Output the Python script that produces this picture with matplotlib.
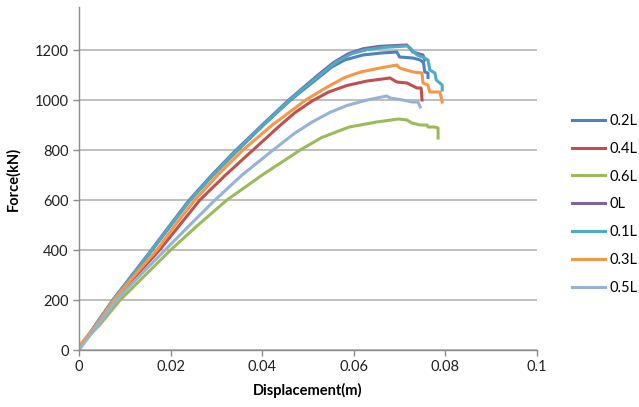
import matplotlib
matplotlib.use("Agg")
import matplotlib.pyplot as plt

plt.rcParams['font.family'] = ['Lato', 'DejaVu Sans']

# 位移 (m) 与 力 (kN)
labels = ['0.2L', '0.4L', '0.6L', '0L', '0.1L', '0.3L', '0.5L']
colors = ['#4F81BD', '#C0504D', '#9BBB59', '#8064A2', '#4BACC6', '#F79646', '#95B3D7']

x_02 = [0, 0.0037, 0.0075, 0.0117, 0.0160, 0.0201, 0.0243, 0.0293, 0.0347, 0.0403, 0.0462,
        0.0530, 0.0552, 0.0580, 0.0620, 0.0660, 0.0694, 0.0700, 0.0729, 0.0745, 0.0752,
        0.0755, 0.0762, 0.0762]
y_02 = [5, 100, 200, 300, 400, 500, 600, 700, 800, 900, 1000,
        1100, 1132, 1160, 1180, 1188, 1192, 1172, 1168, 1160, 1150,
        1112, 1108, 1090]

x_04 = [0, 0.0039, 0.0078, 0.0126, 0.0176, 0.0220, 0.0264, 0.0320, 0.0380, 0.0440, 0.0472,
        0.0508, 0.0545, 0.0585, 0.0629, 0.0679, 0.0694, 0.0716, 0.0738, 0.0747, 0.0749]
y_04 = [5, 100, 200, 300, 400, 500, 600, 700, 800, 900, 950,
        995, 1032, 1058, 1076, 1088, 1072, 1068, 1048, 1048, 1000]

x_06 = [0, 0.0045, 0.0090, 0.0145, 0.0200, 0.0260, 0.0323, 0.0400, 0.0483, 0.0530, 0.0590,
        0.0650, 0.0697, 0.0716, 0.0727, 0.0745, 0.0760, 0.0762, 0.0777, 0.0784, 0.0784]
y_06 = [15, 100, 200, 300, 400, 500, 600, 700, 800, 850, 892,
        912, 924, 920, 908, 900, 900, 892, 892, 888, 848]

x_0 = [0, 0.0036, 0.0074, 0.0116, 0.0158, 0.0199, 0.0241, 0.0290, 0.0343, 0.0400, 0.0458,
       0.0522, 0.0556, 0.0588, 0.0620, 0.0658, 0.0716, 0.0720, 0.0729, 0.0751, 0.0755]
y_0 = [5, 100, 200, 300, 400, 500, 600, 700, 800, 900, 1000,
       1100, 1150, 1185, 1205, 1215, 1220, 1212, 1192, 1180, 1160]

x_01 = [0, 0.0036, 0.0074, 0.0117, 0.0159, 0.0200, 0.0243, 0.0292, 0.0345, 0.0402, 0.0460,
        0.0526, 0.0560, 0.0595, 0.0625, 0.0665, 0.0716, 0.0723, 0.0738, 0.0750, 0.0762,
        0.0766, 0.0777, 0.0780, 0.0793, 0.0793]
y_01 = [5, 100, 200, 300, 400, 500, 600, 700, 800, 900, 1000,
        1100, 1150, 1185, 1200, 1210, 1216, 1208, 1180, 1172, 1160,
        1120, 1108, 1080, 1060, 1040]

x_03 = [0, 0.0038, 0.0076, 0.0122, 0.0170, 0.0210, 0.0253, 0.0303, 0.0358, 0.0422, 0.0495,
        0.0540, 0.0580, 0.0615, 0.0657, 0.0694, 0.0700, 0.0729, 0.0749, 0.0751, 0.0762,
        0.0766, 0.0788, 0.0793]
y_03 = [15, 100, 200, 300, 400, 500, 600, 700, 800, 900, 1000,
        1050, 1090, 1112, 1128, 1140, 1128, 1112, 1108, 1068, 1060,
        1032, 1032, 992]

x_05 = [0, 0.0041, 0.0082, 0.0134, 0.0188, 0.0242, 0.0297, 0.0356, 0.0424, 0.0470, 0.0511,
        0.0550, 0.0585, 0.0629, 0.0672, 0.0679, 0.0707, 0.0727, 0.0740, 0.0745]
y_05 = [0, 100, 200, 300, 400, 500, 600, 700, 800, 866, 914,
        952, 978, 1000, 1016, 1008, 1000, 992, 992, 972]

xs = [x_02, x_04, x_06, x_0, x_01, x_03, x_05]
ys = [y_02, y_04, y_06, y_0, y_01, y_03, y_05]

fig = plt.figure(figsize=(6.39, 4.07), dpi=100)
ax = fig.add_axes([79 / 639, 1 - 350 / 407, 458 / 639, 343 / 407])

for x, y, c, lab in zip(xs, ys, colors, labels):
    ax.plot(x, y, color=c, lw=2.2, label=lab)

ax.set_xlim(0, 0.1)
ax.set_ylim(0, 1372)
ax.set_xticks([0, 0.02, 0.04, 0.06, 0.08, 0.1])
ax.set_xticklabels(['0', '0.02', '0.04', '0.06', '0.08', '0.1'])
ax.set_yticks(range(0, 1201, 200))
ax.grid(axis='y', color='#B4B4B4', lw=1.2)
ax.set_axisbelow(True)
for s in ['top', 'right']:
    ax.spines[s].set_visible(False)
for s in ['left', 'bottom']:
    ax.spines[s].set_color('#8C8C8C')
    ax.spines[s].set_linewidth(1.0)
ax.tick_params(colors='#8C8C8C', labelcolor='#222222', labelsize=10.5, length=4, width=1)
ax.set_xlabel('Displacement(m)', fontsize=10.5, fontweight='bold', labelpad=6)
ax.set_ylabel('Force(kN)', fontsize=10.5, fontweight='bold', labelpad=10)

fig.legend(loc='upper left', bbox_to_anchor=(566 / 639, 1 - 108 / 407), frameon=False,
           fontsize=10.5, handlelength=2.3, handletextpad=0.3, labelspacing=0.95,
           borderaxespad=0)

fig.savefig('out.png', dpi=100)
